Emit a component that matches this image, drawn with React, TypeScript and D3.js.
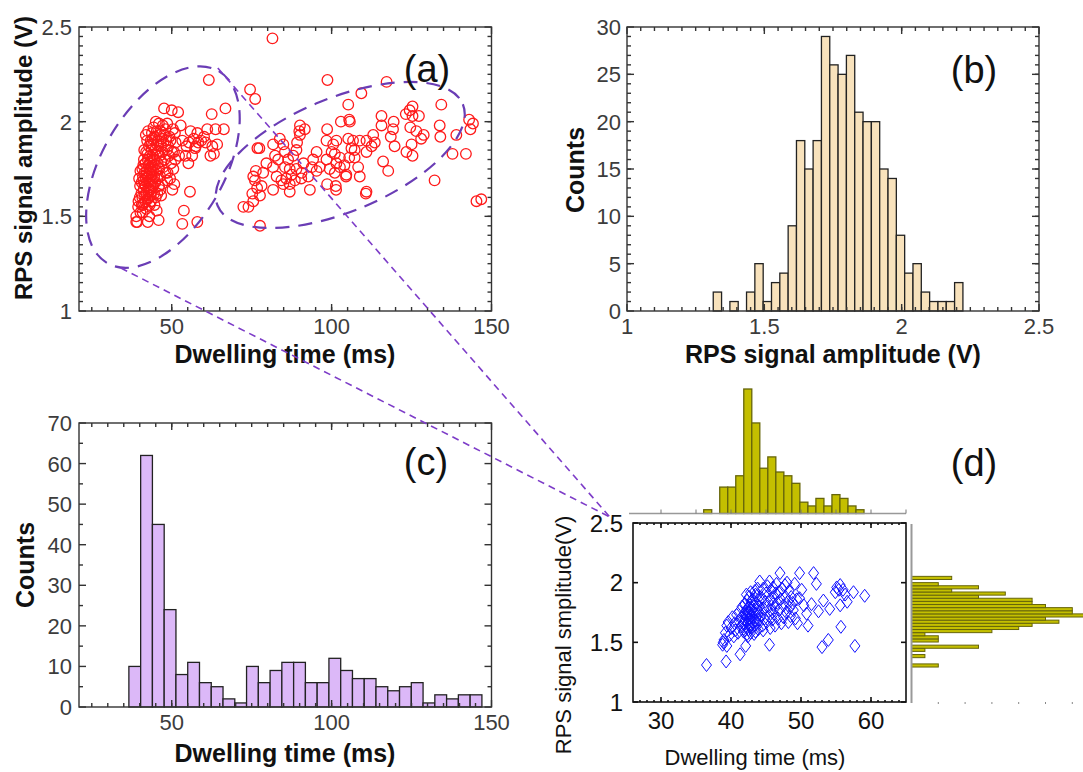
import React from 'react';
import * as d3 from 'd3';

const W = 1083;
const H = 772;
const FONT = '"Liberation Sans", Arial, Helvetica, sans-serif';

// (a) dwelling time (ms) vs RPS signal amplitude (V)
const scatterA: [number, number][] = [
  [38.9, 1.47], [38.9, 1.50], [39.2, 1.47], [39.5, 1.55], [40.0, 1.60], [40.1, 1.66], [39.8, 1.70], [40.2, 1.52], [39.6, 1.58], [40.2, 1.74],
  [40.5, 1.62], [40.6, 1.68], [40.8, 1.60], [40.8, 1.75], [41.0, 1.56], [41.0, 1.71], [41.2, 1.64], [41.3, 1.57], [41.3, 1.80], [41.5, 1.67],
  [41.5, 1.73], [41.6, 1.61], [41.8, 1.66], [41.8, 1.78], [41.9, 1.70], [42.0, 1.54], [42.0, 1.84], [42.1, 1.62], [42.2, 1.74], [42.3, 1.68],
  [42.4, 1.59], [42.5, 1.47], [42.5, 1.80], [42.6, 1.71], [42.7, 1.65], [42.8, 1.77], [42.9, 1.60], [42.9, 1.87], [43.0, 1.69], [43.0, 1.73],
  [43.1, 1.56], [43.2, 1.82], [43.2, 1.64], [43.3, 1.75], [43.4, 1.90], [43.4, 1.67], [43.5, 1.79], [43.5, 1.58], [43.6, 1.71], [43.7, 1.85],
  [43.7, 1.63], [43.8, 1.94], [43.8, 1.76], [43.9, 1.69], [43.9, 1.81], [40.9, 1.52], [41.4, 1.85], [42.3, 1.90], [43.0, 1.50], [41.7, 1.58],
  [42.6, 1.95], [43.3, 1.61], [40.6, 1.56], [41.1, 1.77], [42.0, 1.72], [42.8, 1.63], [43.6, 1.88], [41.9, 1.93], [42.4, 1.83], [43.1, 1.78],
  [43.8, 1.72], [41.2, 1.69],
  [44.1, 1.74], [44.2, 1.88], [44.2, 1.66], [44.3, 1.97], [44.4, 1.80], [44.5, 1.62], [44.5, 1.71], [44.6, 1.92], [44.7, 1.77], [44.8, 1.85],
  [44.9, 1.68], [45.0, 2.00], [45.0, 1.60], [45.1, 1.82], [45.2, 1.74], [45.3, 1.95], [45.4, 1.88], [45.5, 1.62], [45.5, 1.70], [45.6, 1.78],
  [45.7, 1.84], [45.8, 1.90], [45.9, 1.48], [46.0, 1.99], [46.0, 1.66], [46.1, 1.75], [46.2, 1.82], [46.3, 1.93], [46.4, 1.71], [46.5, 1.95],
  [46.6, 1.87], [46.7, 1.61], [46.8, 1.79], [46.9, 1.91], [47.0, 1.67], [47.1, 1.84], [47.2, 1.98], [47.3, 1.76], [47.4, 1.89], [47.5, 1.93],
  [47.6, 2.07], [44.6, 1.56], [45.3, 1.53], [44.0, 1.91], [46.4, 1.64],
  [47.8, 1.80], [48.0, 1.96], [48.1, 1.73], [48.3, 1.90], [48.5, 1.85], [48.6, 1.99], [48.7, 1.73], [48.9, 1.87], [49.1, 1.82], [49.3, 1.92],
  [49.5, 1.70], [49.6, 1.90], [49.8, 1.78], [50.0, 2.06], [50.1, 1.84], [50.2, 1.64], [50.4, 1.96], [50.5, 1.75], [50.7, 1.84], [50.8, 1.67],
  [51.0, 1.94], [51.1, 1.80], [51.2, 1.89], [48.6, 1.69],
  [52.0, 2.05], [52.3, 1.82], [52.8, 1.98], [53.3, 1.90], [53.3, 1.46], [53.8, 1.53], [54.3, 1.82], [54.6, 1.87],
  [55.4, 1.89], [55.7, 1.63], [55.9, 1.95], [56.4, 1.82], [56.9, 1.91], [57.3, 1.86], [57.5, 1.87], [58.0, 1.47], [58.0, 1.94], [58.3, 1.89], [55.2, 1.78],
  [59.2, 1.90], [60.1, 1.92], [60.6, 1.89], [61.1, 1.96], [61.6, 2.22], [62.1, 1.82],
  [62.5, 2.04], [62.7, 1.87], [63.2, 1.83], [63.7, 1.96], [64.2, 1.88],
  [66.3, 1.96], [66.8, 2.07], [72.4, 1.55],
  [74.5, 2.17], [76.1, 2.12], [75.5, 1.58], [75.5, 1.71], [76.0, 1.69], [76.7, 1.65], [76.3, 1.74], [75.2, 1.62], [76.8, 1.86], [74.0, 1.55],
  [77.4, 1.86], [77.6, 1.45], [77.6, 1.61], [78.1, 1.66], [78.6, 1.73], [79.6, 1.78],
  [81.5, 2.44], [81.7, 1.76], [81.7, 1.64], [81.7, 1.88], [82.3, 1.82], [82.8, 1.71], [83.3, 1.80], [83.8, 1.91], [84.3, 1.69],
  [84.9, 1.67], [84.9, 1.88], [85.4, 1.76], [85.4, 1.84], [86.4, 1.80], [86.9, 1.67], [86.9, 1.63], [86.9, 1.75], [87.5, 1.72], [88.0, 1.82], [85.8, 1.70],
  [88.5, 1.69], [89.0, 1.75], [89.0, 1.85], [89.2, 1.89], [89.9, 1.95], [90.1, 1.98], [90.1, 1.93], [90.6, 1.73], [91.6, 1.96], [90.5, 1.70], [91.2, 1.78],
  [92.7, 1.71], [93.2, 1.64], [94.2, 1.80], [95.3, 1.84], [95.3, 1.74], [93.8, 1.76],
  [96.3, 1.76], [98.4, 1.80], [98.4, 1.90], [98.6, 1.96], [98.6, 1.67], [98.7, 2.22],
  [99.4, 1.75], [100.5, 1.88], [101.0, 1.73], [101.0, 1.83], [101.3, 1.66], [101.4, 1.64], [101.5, 1.90], [101.5, 1.78], [102.6, 1.81], [102.6, 1.76], [102.9, 2.00], [100.0, 1.84],
  [104.5, 1.71], [104.6, 1.72], [105.2, 2.09], [105.2, 1.91], [105.5, 1.81], [105.5, 2.01], [105.7, 2.00], [106.2, 1.86], [104.0, 1.77],
  [106.7, 1.90], [107.2, 1.81], [107.2, 1.85], [108.3, 1.76], [108.8, 1.90], [108.8, 1.71], [109.3, 2.15],
  [110.7, 1.62], [110.9, 1.90], [110.9, 1.84], [110.9, 1.63], [112.5, 1.87], [113.0, 1.93], [113.5, 1.89],
  [115.6, 2.03], [115.6, 1.98], [116.1, 1.79], [117.2, 2.21], [117.7, 1.74],
  [118.5, 1.92], [119.2, 1.96], [119.4, 2.00], [119.7, 1.87],
  [123.2, 2.04], [123.4, 1.84], [124.4, 2.06], [124.6, 1.97], [125.0, 1.88],
  [125.3, 2.08], [125.3, 2.03], [125.3, 1.82], [127.3, 2.03], [128.0, 1.91], [126.5, 1.95],
  [128.8, 1.93], [132.2, 1.69], [133.8, 1.98], [134.3, 2.09], [134.0, 1.92],
  [137.8, 1.83], [139.0, 1.93], [142.0, 1.83], [143.0, 2.01], [143.4, 1.96],
  [144.2, 1.99], [145.3, 1.58], [146.8, 1.59],
];

// (b) amplitude histogram
const ampBinStart = 1.314;
const ampBinWidth = 0.0303;
const ampCounts = [2, 0, 1, 0, 2, 5, 1, 3, 4, 9, 18, 15, 18, 29, 26, 25, 27, 21, 20, 20, 15, 14, 8, 4, 5, 2, 1, 1, 1, 3];

// (c) dwelling time histogram
const dwellBinStart = 36.6;
const dwellBinWidth = 3.68;
const dwellCounts = [10, 62, 45, 24, 8, 11, 6, 5, 2, 1, 10, 6, 9, 11, 11, 6, 6, 12, 9, 7, 7, 5, 4, 5, 6, 1, 3, 2, 3, 3];

// (d) zoomed scatter with marginal histograms
const scatterD: [number, number][] = [
  [36.5, 1.31],
  [38.8, 1.48], [39.3, 1.34], [39.4, 1.64], [39.0, 1.52], [38.9, 1.50], [39.2, 1.58], [39.4, 1.47],
  [39.6, 1.67], [39.8, 1.56], [40.0, 1.62], [40.2, 1.71], [40.4, 1.55], [40.5, 1.66], [40.6, 1.60],
  [40.8, 1.73], [41.0, 1.58], [41.1, 1.68], [41.2, 1.76], [41.3, 1.40], [41.4, 1.63], [41.5, 1.71], [41.6, 1.80], [41.7, 1.66], [41.8, 1.59],
  [41.9, 1.74], [42.0, 1.69], [42.0, 1.82], [42.1, 1.47], [42.1, 1.63], [42.2, 1.77], [42.2, 1.71], [42.3, 1.57], [42.3, 1.85], [42.4, 1.66],
  [42.4, 1.74], [42.5, 1.79], [42.5, 1.61], [42.6, 1.70], [42.6, 1.88], [42.6, 1.75], [42.7, 1.65], [42.7, 1.81], [42.8, 1.72], [42.8, 1.58],
  [42.8, 1.92], [42.9, 1.68], [42.9, 1.77], [42.9, 1.84], [42.0, 1.60], [42.2, 1.90], [42.4, 1.55], [42.5, 1.69], [42.7, 1.73], [42.3, 1.78],
  [41.9, 1.66], [42.1, 1.74], [42.9, 1.62],
  [43.1, 1.70], [43.1, 1.86], [43.2, 1.76], [43.2, 1.63], [43.3, 1.80], [43.4, 1.93], [43.4, 1.68], [43.5, 1.74], [43.5, 1.59], [43.6, 1.83],
  [43.6, 1.71], [43.7, 1.89], [43.7, 1.66], [43.8, 1.78], [43.8, 1.95], [43.9, 1.73], [43.9, 1.61], [44.0, 1.85], [44.0, 1.69], [44.1, 1.80],
  [43.3, 1.57], [43.5, 1.90], [43.9, 1.76], [44.1, 2.01],
  [44.3, 1.73], [44.4, 1.87], [44.5, 1.64], [44.6, 1.95], [44.7, 1.78], [44.8, 1.70], [44.9, 1.84], [45.0, 1.91], [45.1, 1.67], [45.2, 1.80],
  [44.6, 1.60], [45.2, 1.97],
  [45.4, 1.72], [45.5, 1.48], [45.5, 2.01], [45.6, 1.86], [45.7, 1.77], [45.8, 1.93], [45.9, 1.69], [46.0, 1.82], [46.0, 1.96], [46.1, 1.74],
  [46.2, 1.88], [46.3, 1.64], [46.3, 1.79], [46.4, 1.91], [45.6, 1.62],
  [46.5, 1.99], [46.6, 1.83], [46.7, 1.70], [46.8, 1.92], [46.9, 1.77], [47.0, 2.08], [47.1, 1.86], [47.2, 1.66], [47.3, 1.95], [47.5, 1.81], [47.5, 1.71],
  [47.7, 1.98], [47.8, 1.88], [47.9, 1.75], [48.0, 2.00], [48.1, 1.84], [48.2, 1.67], [48.3, 1.93], [48.4, 1.79], [48.5, 1.72], [48.6, 1.88],
  [48.8, 1.83], [48.9, 1.77], [49.1, 1.99], [49.2, 1.70], [49.4, 1.86], [49.5, 1.66], [49.8, 2.08], [49.8, 1.87],
  [50.1, 1.94], [50.4, 1.81], [50.8, 1.74],
  [51.0, 1.64], [51.5, 1.82], [51.8, 2.08],
  [52.2, 1.99], [52.5, 1.76], [53.0, 1.46], [53.2, 1.85],
  [53.9, 1.52], [54.1, 1.78],
  [54.9, 1.92], [55.1, 1.96], [55.4, 1.94], [55.6, 1.98], [55.6, 1.81],
  [55.7, 1.63], [56.0, 1.94], [56.3, 1.90], [56.6, 1.84],
  [57.5, 1.92], [57.7, 1.47], [59.1, 1.89],
];
const dTopBinStart = 36.1;
const dTopBinWidth = 1.145;
const dTopCounts = [1, 0, 7, 7, 10, 33, 24, 12, 15, 11, 10, 8, 3, 2, 4, 2, 5, 4, 2, 1];
const dRightBinStart = 1.293;
const dRightBinWidth = 0.0262;
const dRightCounts = [2, 0, 0, 1, 0, 1, 5, 0, 2, 2, 1, 6, 8, 9, 11, 10, 14, 12, 12, 10, 9, 9, 5, 7, 3, 5, 2, 0, 3];

// tick labels
const aXTicks = [50, 100, 150];
const aYTicks = [1, 1.5, 2, 2.5];
const bXTicks = [1, 1.5, 2, 2.5];
const bYTicks = [0, 5, 10, 15, 20, 25, 30];
const cYTicks = [0, 10, 20, 30, 40, 50, 60, 70];
const dXTicks = [30, 40, 50, 60];
const dYTicks = [1, 1.5, 2, 2.5];
const dRightTicks = [2, 4, 6, 8, 10, 12];

type Lin = d3.ScaleLinear<number, number>;

// box frame with inward ticks on all four sides
const Frame = ({ x, y, xMajor, xMinor, yMajor, yMinor, major = 7, minor = 4, color = '#333', width = 1.4 }:
  { x: Lin; y: Lin; xMajor: number[]; xMinor: number[]; yMajor: number[]; yMinor: number[]; major?: number; minor?: number; color?: string; width?: number }) => {
  const [x0, x1] = x.range();
  const [y0, y1] = y.range();
  const lines: JSX.Element[] = [];
  const addX = (vals: number[], len: number, k: string) => vals.forEach((v, i) => {
    const px = x(v);
    lines.push(<line key={`${k}b${i}`} x1={px} x2={px} y1={y0} y2={y0 - len} />);
    lines.push(<line key={`${k}t${i}`} x1={px} x2={px} y1={y1} y2={y1 + len} />);
  });
  const addY = (vals: number[], len: number, k: string) => vals.forEach((v, i) => {
    const py = y(v);
    lines.push(<line key={`${k}l${i}`} x1={x0} x2={x0 + len} y1={py} y2={py} />);
    lines.push(<line key={`${k}r${i}`} x1={x1} x2={x1 - len} y1={py} y2={py} />);
  });
  addX(xMinor, minor, 'xm');
  addX(xMajor, major, 'xM');
  addY(yMinor, minor, 'ym');
  addY(yMajor, major, 'yM');
  return (
    <g stroke={color} strokeWidth={width} fill="none">
      {lines}
      <rect x={x0} y={y1} width={x1 - x0} height={y0 - y1} />
    </g>
  );
};

const Hist = ({ x, y, start, step, counts, fill, stroke }:
  { x: Lin; y: Lin; start: number; step: number; counts: number[]; fill: string; stroke: string }) => (
  <g fill={fill} stroke={stroke} strokeWidth={1.3}>
    {counts.map((c, i) => c > 0 && (
      <rect key={i} x={x(start + i * step)} width={x(start + (i + 1) * step) - x(start + i * step)}
        y={y(c)} height={y(0) - y(c)} />
    ))}
  </g>
);

export default function App() {
  const ax = d3.scaleLinear().domain([21, 150]).range([79, 491.5]);
  const ay = d3.scaleLinear().domain([1, 2.5]).range([311, 27]);
  const bx = d3.scaleLinear().domain([1, 2.5]).range([627, 1039]);
  const by = d3.scaleLinear().domain([0, 30]).range([311, 27]);
  const cx = d3.scaleLinear().domain([21, 150]).range([79, 491.5]);
  const cy = d3.scaleLinear().domain([0, 70]).range([707, 423]);
  const dx = d3.scaleLinear().domain([26, 65]).range([633, 906]);
  const dy = d3.scaleLinear().domain([1, 2.5]).range([702, 523]);
  const topY = d3.scaleLinear().domain([0, 33]).range([513.5, 389]);
  const rightX = d3.scaleLinear().domain([0, 12]).range([911.5, 1072.3]);

  const fmt = (v: number) => String(v);
  const tickCol = '#3c3c3c';

  // annotation ellipses in panel (a): centre in data units, radii in px
  const ellipses = [
    { cx: 47.25, cy: 1.76, rx: 111, ry: 61, angle: -59.8 },
    { cx: 102.7, cy: 1.824, rx: 132.7, ry: 56.8, angle: -22.5 },
  ];
  const corner: [number, number] = [dx(22.7), dy(2.55)];
  const links: [number, number][] = [[34.1, 1.227], [64.4, 2.283]];

  const diamond = 'M0,-6.5L5,0L0,6.5L-5,0Z';

  return (
    <svg width={W} height={H} style={{ position: 'absolute', left: 0, top: 0, background: '#fff' }} fontFamily={FONT}>
      {/* ---------- (a) ---------- */}
      <Frame x={ax} y={ay} xMajor={aXTicks} xMinor={d3.range(25, 150, 5)}
        yMajor={aYTicks} yMinor={d3.range(1.05, 2.5, 0.05)} />
      <g fill="none" stroke="#ff1a1a" strokeWidth={1.3}>
        {scatterA.map(([t, v], i) => <circle key={i} cx={ax(t)} cy={ay(v)} r={5.3} />)}
      </g>
      {ellipses.map((e, i) => (
        <ellipse key={i} cx={ax(e.cx)} cy={ay(e.cy)} rx={e.rx} ry={e.ry}
          transform={`rotate(${e.angle} ${ax(e.cx)} ${ay(e.cy)})`}
          fill="none" stroke="#6a3db5" strokeWidth={2.2} strokeDasharray="14 9" />
      ))}
      <g fill={tickCol} fontSize={22}>
        {aXTicks.map(v => <text key={v} x={ax(v)} y={334} textAnchor="middle">{fmt(v)}</text>)}
        {aYTicks.map(v => <text key={v} x={72} y={ay(v) + 8} textAnchor="end">{fmt(v)}</text>)}
      </g>
      <text x={285} y={363} textAnchor="middle" fontSize={25} fontWeight="bold" fill="#111">Dwelling time (ms)</text>
      <text transform={`translate(32,158) rotate(-90)`} textAnchor="middle" fontSize={24} fontWeight="bold" fill="#111">RPS signal amplitude (V)</text>
      <text x={427} y={82} textAnchor="middle" fontSize={38} fill="#111">(a)</text>

      {/* ---------- (b) ---------- */}
      <Hist x={bx} y={by} start={ampBinStart} step={ampBinWidth} counts={ampCounts} fill="#f8e2bc" stroke="#222" />
      <Frame x={bx} y={by} xMajor={bXTicks} xMinor={d3.range(1.05, 2.5, 0.05)}
        yMajor={bYTicks} yMinor={d3.range(1, 30, 1)} />
      <g fill={tickCol} fontSize={22}>
        {bXTicks.map(v => <text key={v} x={bx(v)} y={334} textAnchor="middle">{fmt(v)}</text>)}
        {bYTicks.map(v => <text key={v} x={621} y={by(v) + 8} textAnchor="end">{fmt(v)}</text>)}
      </g>
      <text x={833} y={363} textAnchor="middle" fontSize={25} fontWeight="bold" fill="#111">RPS signal amplitude (V)</text>
      <text transform={`translate(584,170) rotate(-90)`} textAnchor="middle" fontSize={25} fontWeight="bold" fill="#111">Counts</text>
      <text x={974} y={83} textAnchor="middle" fontSize={38} fill="#111">(b)</text>

      {/* ---------- (c) ---------- */}
      <Hist x={cx} y={cy} start={dwellBinStart} step={dwellBinWidth} counts={dwellCounts} fill="#dcb8f8" stroke="#222" />
      <Frame x={cx} y={cy} xMajor={aXTicks} xMinor={d3.range(25, 150, 5)}
        yMajor={cYTicks} yMinor={d3.range(5, 70, 10)} />
      <g fill={tickCol} fontSize={22}>
        {aXTicks.map(v => <text key={v} x={cx(v)} y={730} textAnchor="middle">{fmt(v)}</text>)}
        {cYTicks.map(v => <text key={v} x={72} y={cy(v) + 8} textAnchor="end">{fmt(v)}</text>)}
      </g>
      <text x={285} y={762} textAnchor="middle" fontSize={25} fontWeight="bold" fill="#111">Dwelling time (ms)</text>
      <text transform={`translate(34,565) rotate(-90)`} textAnchor="middle" fontSize={25} fontWeight="bold" fill="#111">Counts</text>
      <text x={426} y={475} textAnchor="middle" fontSize={38} fill="#111">(c)</text>

      {/* ---------- (d) ---------- */}
      <Hist x={dx} y={topY} start={dTopBinStart} step={dTopBinWidth} counts={dTopCounts} fill="#c4bf00" stroke="#66650a" />
      <line x1={629} x2={906} y1={513.5} y2={513.5} stroke="#999" strokeWidth={1.5} />
      <g stroke="#777" strokeWidth={1}>
        {d3.range(30, 66, 5).map(v => <line key={v} x1={dx(v)} x2={dx(v)} y1={513.5} y2={509.5} />)}
      </g>
      <g fill="#c4bf00" stroke="#66650a" strokeWidth={1}>
        {dRightCounts.map((c, i) => c > 0 && (
          <rect key={i} x={rightX(0)} width={rightX(c) - rightX(0)}
            y={dy(dRightBinStart + (i + 1) * dRightBinWidth)}
            height={dy(dRightBinStart + i * dRightBinWidth) - dy(dRightBinStart + (i + 1) * dRightBinWidth)} />
        ))}
      </g>
      <line x1={rightX(0)} x2={rightX(0)} y1={524} y2={703} stroke="#999" strokeWidth={2} />
      <g stroke="#888" strokeWidth={1}>
        {dRightTicks.map(v => <line key={v} x1={rightX(v)} x2={rightX(v)} y1={702} y2={704} />)}
      </g>
      <Frame x={dx} y={dy} xMajor={dXTicks} xMinor={d3.range(27, 65, 1)}
        yMajor={dYTicks} yMinor={[]} major={5} minor={2} color="#111" width={1.6} />
      <g fill="none" stroke="#1010ff" strokeWidth={1}>
        {scatterD.map(([t, v], i) => <path key={i} d={diamond} transform={`translate(${dx(t)},${dy(v)})`} />)}
      </g>
      <g fill="#111" fontSize={24}>
        {dXTicks.map(v => <text key={v} x={dx(v)} y={729} textAnchor="middle">{fmt(v)}</text>)}
        {dYTicks.map(v => <text key={v} x={623} y={dy(v) + 8.5} textAnchor="end">{fmt(v)}</text>)}
      </g>
      <text x={755} y={765} textAnchor="middle" fontSize={22} fill="#111">Dwelling time (ms)</text>
      <text transform={`translate(571,635) rotate(-90)`} textAnchor="middle" fontSize={22} fill="#111">RPS signal smplitude(V)</text>
      <text x={974} y={476} textAnchor="middle" fontSize={38} fill="#111">(d)</text>

      {/* ---------- connecting dashed lines ---------- */}
      <g stroke="#7d3cc8" strokeWidth={1.6} strokeDasharray="7 5" fill="none">
        {links.map(([t, v], i) => (
          <line key={i} x1={ax(t)} y1={ay(v)} x2={corner[0]} y2={corner[1]} />
        ))}
      </g>
    </svg>
  );
}
